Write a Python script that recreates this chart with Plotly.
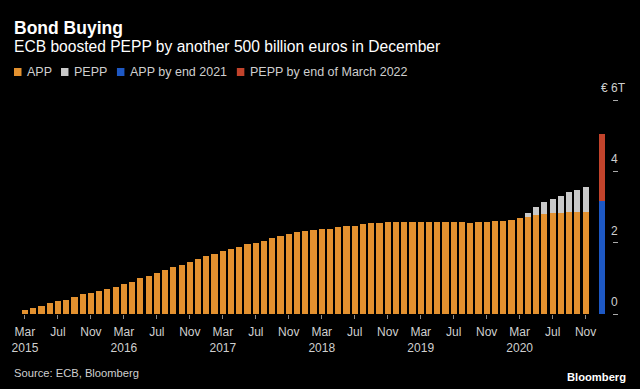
import plotly.graph_objects as go

# ---- data (trillions of euros, month-end holdings) ----
months = [f"{y}-{m:02d}" for y in range(2015, 2021) for m in range(1, 13)]
months = [m for m in months if "2015-03" <= m <= "2020-11"]

app = [0.11, 0.16, 0.22, 0.30, 0.36, 0.40, 0.48, 0.55, 0.59, 0.65,
       0.70, 0.77, 0.83, 0.90, 1.00, 1.07, 1.16, 1.22, 1.31, 1.38,
       1.47, 1.54, 1.62, 1.69, 1.76, 1.83, 1.88, 1.96, 2.00, 2.06,
       2.13, 2.18, 2.25, 2.29, 2.32, 2.35, 2.37, 2.39, 2.44, 2.47,
       2.48, 2.51, 2.54, 2.56, 2.57, 2.58, 2.58, 2.58, 2.57, 2.58,
       2.58, 2.58, 2.57, 2.58, 2.54, 2.57, 2.59, 2.60, 2.61, 2.64,
       2.69, 2.73, 2.78, 2.80, 2.82, 2.83, 2.85, 2.86, 2.87]
pepp = [0.0] * 61 + [0.10, 0.22, 0.34, 0.41, 0.49, 0.57, 0.63, 0.70]

forecast_cat = ["2021-01"]
app_end_2021 = [3.18]
pepp_end_mar_2022 = [1.87]

MONTH_NAMES = ["Jan", "Feb", "Mar", "Apr", "May", "Jun", "Jul", "Aug",
               "Sep", "Oct", "Nov", "Dec"]
all_cats = months + ["2020-12", "2021-01"]
tick_cats = months[::4]
tick_text = [MONTH_NAMES[int(c[5:]) - 1] + ("<br>" + c[:4] if c.endswith("-03") else "")
             for c in tick_cats]

y_ticks = [0, 2, 4, 6]
y_labels = ["0", "2", "4", "€ 6T"]

ORANGE = "#E3912F"
GRAY = "#C9C9C9"
BLUE = "#1D58C4"
RED = "#C2432B"
TXT = "#CFCFCF"
FONT = "Liberation Sans, Arial, sans-serif"

# plot area in pixels
L, R, T, B = 20, 612.4, 100, 314
W, H = 640, 389


def xp(px):
    return (px - L) / (R - L)


def yp(py):
    return (B - py) / (B - T)


fig = go.Figure()
fig.add_bar(x=months, y=app, name="APP", marker_color=ORANGE, marker_line_width=0)
fig.add_bar(x=months, y=pepp, name="PEPP", marker_color=GRAY, marker_line_width=0)
fig.add_bar(x=forecast_cat, y=app_end_2021, name="APP by end 2021",
            marker_color=BLUE, marker_line_width=0)
fig.add_bar(x=forecast_cat, y=pepp_end_mar_2022, name="PEPP by end of March 2022",
            marker_color=RED, marker_line_width=0)

annotations = []
shapes = []

# titles
annotations.append(dict(x=xp(12), y=yp(28), xref="paper", yref="paper", xanchor="left",
                        yanchor="middle", text="<b>Bond Buying</b>", showarrow=False,
                        font=dict(family=FONT, size=17.5, color="#FFFFFF")))
annotations.append(dict(x=xp(12), y=yp(46), xref="paper", yref="paper", xanchor="left",
                        yanchor="middle",
                        text="ECB boosted PEPP by another 500 billion euros in December",
                        showarrow=False, font=dict(family=FONT, size=15.6, color="#FFFFFF")))

# legend
legend_items = [("APP", ORANGE, 14), ("PEPP", GRAY, 61),
                ("APP by end 2021", BLUE, 117), ("PEPP by end of March 2022", RED, 237)]
for name, col, x0 in legend_items:
    shapes.append(dict(type="rect", xref="paper", yref="paper",
                       x0=xp(x0), x1=xp(x0 + 7.5), y0=yp(76), y1=yp(68),
                       fillcolor=col, line_width=0))
    annotations.append(dict(x=xp(x0 + 11), y=yp(72), xref="paper", yref="paper",
                            xanchor="left", yanchor="middle", text=name, showarrow=False,
                            font=dict(family=FONT, size=12.5, color=TXT)))

# y labels (above tick dashes)
for v, lab in zip(y_ticks, y_labels):
    if lab.startswith("€"):
        annotations.append(dict(x=xp(628), y=v, xref="paper", yref="y", xanchor="right",
                                yanchor="middle", yshift=12, text=lab, showarrow=False,
                                font=dict(family=FONT, size=12, color=TXT)))
    else:
        annotations.append(dict(x=xp(615), y=v, xref="paper", yref="y", xanchor="center",
                                yanchor="middle", yshift=12, text=lab, showarrow=False,
                                font=dict(family=FONT, size=12, color=TXT)))

# footer
annotations.append(dict(x=xp(12), y=yp(373), xref="paper", yref="paper", xanchor="left",
                        yanchor="middle", text="Source: ECB, Bloomberg", showarrow=False,
                        font=dict(family=FONT, size=11.2, color=TXT)))
annotations.append(dict(x=xp(628), y=yp(377), xref="paper", yref="paper", xanchor="right",
                        yanchor="middle", text="<b>Bloomberg</b>", showarrow=False,
                        font=dict(family=FONT, size=11.2, color="#FFFFFF")))

fig.update_layout(
    width=W, height=H,
    margin=dict(l=L, r=W - R, t=T, b=H - B, pad=0),
    paper_bgcolor="#000000", plot_bgcolor="#000000",
    barmode="stack", bargap=0.25,
    showlegend=False,
    annotations=annotations, shapes=shapes,
    xaxis=dict(type="category", categoryorder="array", categoryarray=all_cats,
               range=[-0.6, 71.2], tickmode="array", tickvals=tick_cats, ticktext=tick_text,
               ticks="outside", ticklen=4, tickcolor="#8A8A8A", tickwidth=1,
               ticklabelstandoff=3,
               showgrid=False, zeroline=False, showline=False,
               tickfont=dict(family=FONT, size=12, color=TXT), tickangle=0),
    yaxis=dict(side="right", range=[0, 6], tickmode="array", tickvals=y_ticks,
               showticklabels=False, ticks="outside", ticklen=5, tickcolor="#AAAAAA",
               tickwidth=1, showgrid=False, zeroline=False, showline=False),
)

fig.write_html("out.html",
               config={"displayModeBar": False},
               post_script="document.body.style.margin='0';"
                           "document.body.style.background='#000';")
